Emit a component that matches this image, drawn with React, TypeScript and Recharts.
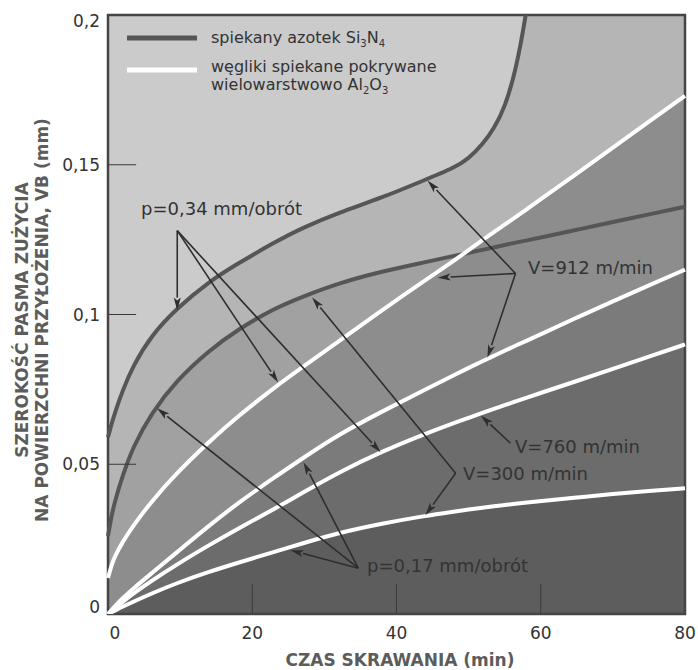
import { ComposedChart, Area, Line, XAxis, YAxis, ReferenceLine, ReferenceArea } from "recharts";

// czas skrawania (min)
const TIME = [0, 0.5, 1, 2, 3.5, 6, 9.5, 14, 18, 23, 27, 32, 38, 44, 48, 50, 52, 53.5, 55, 56.5, 58, 60, 65, 70, 75, 80];

// VB (mm), spiekany azotek Si3N4
const si3n4P34 = [0.059, 0.0635, 0.0675, 0.0745, 0.083, 0.093, 0.102, 0.111, 0.117, 0.124, 0.129, 0.134, 0.139, 0.145, 0.149, 0.152, 0.157, 0.162, 0.169, 0.181, 0.2, 0.235, 0.3, 0.38, 0.46, 0.54];
const si3n4P17 = [0.026, 0.033, 0.038, 0.046, 0.056, 0.067, 0.078, 0.088, 0.095, 0.102, 0.106, 0.1105, 0.1144, 0.1175, 0.1196, 0.1206, 0.1216, 0.1224, 0.1232, 0.124, 0.1247, 0.1257, 0.1283, 0.1309, 0.1334, 0.136];

// VB (mm), węgliki spiekane pokrywane Al2O3
const carbide1 = [0.012, 0.0165, 0.0195, 0.024, 0.0295, 0.0375, 0.047, 0.0575, 0.066, 0.0755, 0.0825, 0.091, 0.1015, 0.1115, 0.118, 0.1215, 0.125, 0.1275, 0.13, 0.1325, 0.135, 0.1385, 0.147, 0.1557, 0.1644, 0.173];
const carbide2 = [0, 0.0013, 0.0027, 0.0052, 0.0085, 0.0135, 0.0205, 0.0295, 0.037, 0.0455, 0.052, 0.06, 0.0676, 0.075, 0.0798, 0.0822, 0.0845, 0.0862, 0.0879, 0.0896, 0.0912, 0.0934, 0.099, 0.1044, 0.1097, 0.115];
const carbide3 = [0, 0.001, 0.002, 0.004, 0.0068, 0.011, 0.0165, 0.023, 0.0285, 0.035, 0.0405, 0.0473, 0.0543, 0.0602, 0.0638, 0.0655, 0.0672, 0.0685, 0.0697, 0.071, 0.0722, 0.0738, 0.0778, 0.0818, 0.0859, 0.09];
const carbide4 = [0, 0.0006, 0.0012, 0.0024, 0.0041, 0.0068, 0.0103, 0.0141, 0.0171, 0.0207, 0.0236, 0.0271, 0.0302, 0.0328, 0.0342, 0.0349, 0.0355, 0.036, 0.0364, 0.0368, 0.0372, 0.0377, 0.0389, 0.0401, 0.0411, 0.042];

const X_TICKS = [0, 20, 40, 60, 80];
const Y_TICKS = [0, 0.05, 0.1, 0.15, 0.2];

// annotation labels: text, x (min), y (mm) of the point where its arrows start and where they point
const NOTES = [
  { text: "p=0,34 mm/obrót", from: [9.6, 0.128], to: [[9.6, 0.1013], [23.6, 0.0773], [37.8, 0.054]] },
  { text: "V=912 m/min", from: [56.5, 0.1137], to: [[44.3, 0.1447], [45.7, 0.1123], [52.6, 0.0856]] },
  { text: "V=760 m/min", from: [55.8, 0.057], to: [[51.7, 0.0663]] },
  { text: "V=300 m/min", from: [48.2, 0.047], to: [[28.3, 0.1057], [44.0, 0.033]] },
  { text: "p=0,17 mm/obrót", from: [34.7, 0.0153], to: [[6.8, 0.0687], [27.1, 0.0507], [25.3, 0.0213]] },
];
const NOTE_POS = [
  [141, 209],
  [528, 268],
  [515, 447],
  [463, 474],
  [367, 566],
];

const rows = TIME.map((t, i) => ({
  t,
  a: si3n4P34[i],
  b: si3n4P17[i],
  c1: carbide1[i],
  c2: carbide2[i],
  c3: carbide3[i],
  c4: carbide4[i],
}));

const W = 698;
const H = 670;
const PL = 108;
const PT = 15;
const PR = 685;
const PB = 614;
const FONT = "'DejaVu Sans', sans-serif";

const fmt = (v: number) => String(v).replace(".", ",");

function YTick(props: any) {
  const { y, payload } = props;
  const v = payload.value;
  const dy = v === 0 ? -7 : v === 0.2 ? 6 : 0;
  return (
    <text x={PL - 8} y={y + dy} textAnchor="end" dominantBaseline="central" fontSize={17} fontFamily={FONT} fill="#333">
      {fmt(v)}
    </text>
  );
}

function XTick(props: any) {
  const { x, payload } = props;
  const v = payload.value;
  return (
    <text x={x + (v === 0 ? 7 : 0)} y={PB + 19} textAnchor="middle" dominantBaseline="central" fontSize={17} fontFamily={FONT} fill="#333">
      {v}
    </text>
  );
}

function Arrow(props: any) {
  const { x1, y1, x2, y2 } = props;
  const dx = x2 - x1;
  const dy = y2 - y1;
  const len = Math.hypot(dx, dy) || 1;
  const ux = dx / len;
  const uy = dy / len;
  const bx = x2 - ux * 13;
  const by = y2 - uy * 13;
  const head = `${x2},${y2} ${bx - uy * 3.5},${by + ux * 3.5} ${bx + ux * 3},${by + uy * 3} ${bx + uy * 3.5},${by - ux * 3.5}`;
  return (
    <g>
      <line x1={x1} y1={y1} x2={bx} y2={by} stroke="#2e2e2e" strokeWidth={1.6} />
      <polygon points={head} fill="#2e2e2e" />
    </g>
  );
}

const textStyle = { position: "absolute" as const, fontFamily: FONT, whiteSpace: "nowrap" as const };

export default function App() {
  return (
    <div style={{ position: "absolute", left: 0, top: 0, width: W, height: H, background: "#fff" }}>
      <ComposedChart width={W} height={H} data={rows} margin={{ top: PT, right: W - PR, bottom: 0, left: 0 }}>
        <XAxis
          dataKey="t"
          type="number"
          domain={[0, 80]}
          ticks={X_TICKS}
          height={H - PB}
          axisLine={false}
          tickLine={false}
          tick={<XTick />}
          interval={0}
        />
        <YAxis
          type="number"
          domain={[0, 0.2]}
          ticks={Y_TICKS}
          width={PL}
          allowDataOverflow
          axisLine={false}
          tickLine={false}
          tick={<YTick />}
          interval={0}
        />
        <ReferenceArea x1={0} x2={80} y1={0} y2={0.2} fill="#cbcbcb" fillOpacity={1} stroke="none" />
        <Area type="basis" dataKey="a" stroke="none" fill="#b5b5b5" fillOpacity={1} isAnimationActive={false} />
        <Area type="basis" dataKey="b" stroke="none" fill="#a1a1a1" fillOpacity={1} isAnimationActive={false} />
        <Area type="basis" dataKey="c1" stroke="none" fill="#8d8d8d" fillOpacity={1} isAnimationActive={false} />
        <Area type="basis" dataKey="c2" stroke="none" fill="#7b7b7b" fillOpacity={1} isAnimationActive={false} />
        <Area type="basis" dataKey="c3" stroke="none" fill="#6c6c6c" fillOpacity={1} isAnimationActive={false} />
        <Area type="basis" dataKey="c4" stroke="none" fill="#5d5d5d" fillOpacity={1} isAnimationActive={false} />
        <Line type="basis" dataKey="a" stroke="#565656" strokeWidth={4} dot={false} isAnimationActive={false} />
        <Line type="basis" dataKey="b" stroke="#565656" strokeWidth={4} dot={false} isAnimationActive={false} />
        <Line type="basis" dataKey="c1" stroke="#ffffff" strokeWidth={4} dot={false} isAnimationActive={false} />
        <Line type="basis" dataKey="c2" stroke="#ffffff" strokeWidth={4} dot={false} isAnimationActive={false} />
        <Line type="basis" dataKey="c3" stroke="#ffffff" strokeWidth={4} dot={false} isAnimationActive={false} />
        <Line type="basis" dataKey="c4" stroke="#ffffff" strokeWidth={4} dot={false} isAnimationActive={false} />
        {Y_TICKS.slice(1, -1).map((v) => (
          <ReferenceLine key={`yt-${v}`} segment={[{ x: 0, y: v }, { x: 3.9, y: v }]} stroke="#3a3a3a" strokeWidth={1} />
        ))}
        {X_TICKS.slice(1, -1).map((v) => (
          <ReferenceLine key={`xt-${v}`} segment={[{ x: v, y: 0 }, { x: v, y: 0.01 }]} stroke="#3a3a3a" strokeWidth={1} />
        ))}
        {NOTES.flatMap((n, i) =>
          n.to.map((p, j) => (
            <ReferenceLine
              key={`ar-${i}-${j}`}
              segment={[
                { x: n.from[0], y: n.from[1] },
                { x: p[0], y: p[1] },
              ]}
              shape={<Arrow />}
            />
          ))
        )}
        <ReferenceArea x1={0} x2={80} y1={0} y2={0.2} fill="none" stroke="#454545" strokeWidth={2.5} />
      </ComposedChart>

      {/* legenda */}
      <svg style={{ position: "absolute", left: 0, top: 0 }} width={W} height={100} pointerEvents="none">
        <line x1={127} x2={197} y1={38} y2={38} stroke="#565656" strokeWidth={5} />
        <line x1={127} x2={197} y1={70} y2={70} stroke="#ffffff" strokeWidth={5} />
      </svg>
      <div style={{ ...textStyle, left: 211, top: 27, fontSize: 16, lineHeight: "22px", color: "#333" }}>
        spiekany azotek Si<sub style={{ fontSize: 10 }}>3</sub>N<sub style={{ fontSize: 10 }}>4</sub>
      </div>
      <div style={{ ...textStyle, left: 211, top: 58, fontSize: 16, lineHeight: "18px", color: "#333" }}>
        węgliki spiekane pokrywane
        <br />
        wielowarstwowo Al<sub style={{ fontSize: 10 }}>2</sub>O<sub style={{ fontSize: 10 }}>3</sub>
      </div>

      {NOTES.map((n, i) => (
        <div key={n.text} style={{ ...textStyle, left: NOTE_POS[i][0], top: NOTE_POS[i][1] - 11, fontSize: 18, lineHeight: "22px", color: "#333" }}>
          {n.text}
        </div>
      ))}

      <div style={{ ...textStyle, left: 200, width: 400, top: 649, textAlign: "center", fontSize: 17, fontWeight: "bold", lineHeight: "22px", color: "#5c5c5c" }}>
        CZAS SKRAWANIA (min)
      </div>
      <div
        style={{
          ...textStyle,
          left: 32 - 250,
          top: 320 - 20,
          width: 500,
          height: 40,
          transform: "rotate(-90deg)",
          textAlign: "center",
          fontSize: 17,
          fontWeight: "bold",
          lineHeight: "20px",
          color: "#5c5c5c",
        }}
      >
        SZEROKOŚĆ PASMA ZUŻYCIA
        <br />
        NA POWIERZCHNI PRZYŁOŻENIA, VB (mm)
      </div>
    </div>
  );
}
